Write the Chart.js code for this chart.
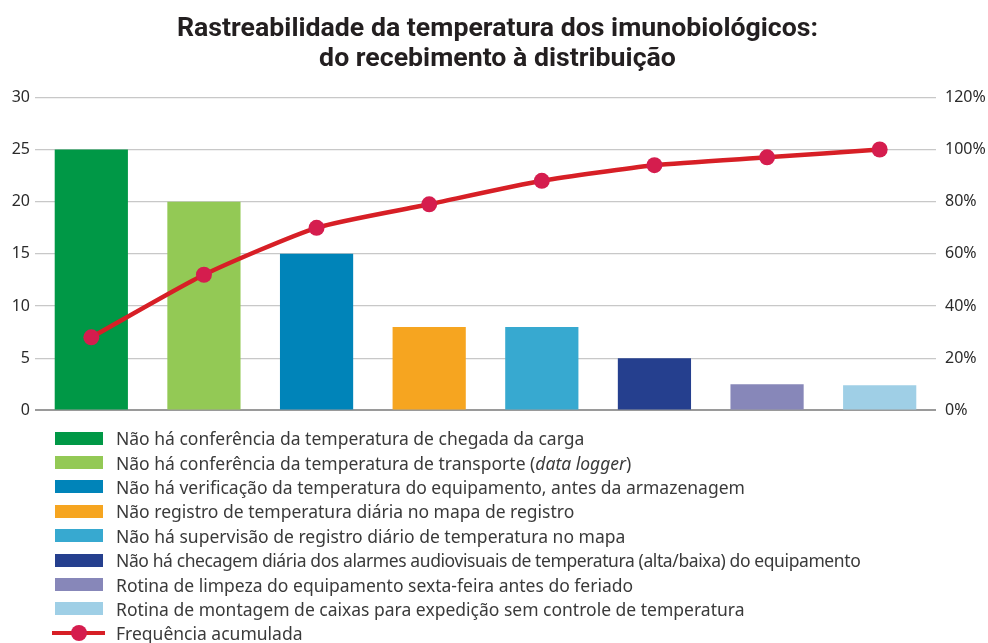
<!DOCTYPE html>
<html>
<head>
<meta charset="utf-8">
<script src="https://cdn.jsdelivr.net/npm/chart.js@4.4.1/dist/chart.umd.min.js"></script>
<style>
    body { margin: 0; background: #fff; }
    #wrap { position: relative; width: 988px; height: 643px; overflow: hidden; }
    #chart { position: absolute; left: 0; top: 0; }
    #legend {
        position: absolute; left: 52px; top: 426px;
        font-family: "Noto Sans", sans-serif; font-size: 17.5px; color: #3a3a3a;
    }
    .row { height: 24.4px; display: flex; align-items: center; white-space: nowrap; }
    .row.tight { letter-spacing: -0.4px; }
    .box { width: 48px; height: 13px; margin: 0 13px 0 3px; flex: none; }
    .lineKey { position: relative; width: 53px; height: 16px; margin-right: 11px; flex: none; }
    .lineKey .ln { position: absolute; left: 0; top: 6px; width: 53px; height: 4px; background: #d71f26; }
    .lineKey .pt { position: absolute; left: 19px; top: 0; width: 16px; height: 16px; border-radius: 50%; background: #d51d4e; }
</style>
</head>
<body>
<div id="wrap">
    <canvas id="chart" width="988" height="429"></canvas>
    <div id="legend"></div>
</div>
<script>
"use strict";

const titleLines = ["Rastreabilidade da temperatura dos imunobiológicos:", "do recebimento à distribuição"];

const categories = [
    "Não há conferência da temperatura de chegada da carga",
    "Não há conferência da temperatura de transporte (data logger)",
    "Não há verificação da temperatura do equipamento, antes da armazenagem",
    "Não registro de temperatura diária no mapa de registro",
    "Não há supervisão de registro diário de temperatura no mapa",
    "Não há checagem diária dos alarmes audiovisuais de temperatura (alta/baixa) do equipamento",
    "Rotina de limpeza do equipamento sexta-feira antes do feriado",
    "Rotina de montagem de caixas para expedição sem controle de temperatura"
];
const counts = [25, 20, 15, 8, 8, 5, 2.5, 2.4];
const cumulativePct = [28, 52, 70, 79, 88, 94, 97, 100];
const barColors = ["#009846", "#93c955", "#0084b9", "#f6a520", "#37a9d0", "#253f8e", "#8787b9", "#9fcfe6"];
const lineLabel = "Frequência acumulada";

const leftTicks = [0, 5, 10, 15, 20, 25, 30];
const rightTicks = [0, 20, 40, 60, 80, 100, 120];

const tickFont = { family: "Noto Sans", size: 16 };

const ctx = document.getElementById("chart").getContext("2d");
new Chart(ctx, {
    data: {
        labels: categories,
        datasets: [{
            type: "line",
            label: lineLabel,
            data: cumulativePct,
            yAxisID: "yPct",
            borderColor: "#d71f26",
            borderWidth: 4.5,
            pointBackgroundColor: "#d51d4e",
            pointBorderColor: "#d51d4e",
            pointRadius: 8,
            pointBorderWidth: 0,
            tension: 0.2,
            order: 0
        }, {
            type: "bar",
            label: "Frequência",
            data: counts,
            yAxisID: "y",
            backgroundColor: barColors,
            barPercentage: 0.65,
            categoryPercentage: 1,
            order: 1
        }]
    },
    options: {
        responsive: false,
        animation: false,
        layout: { padding: { left: 10, right: 3, top: 0, bottom: 0 } },
        plugins: {
            legend: { display: false },
            tooltip: { enabled: false },
            title: {
                display: true,
                text: titleLines,
                color: "#231f20",
                font: { family: "Roboto", size: 26.7, weight: "bold", lineHeight: 1.13 },
                padding: { top: 14, bottom: 23 }
            }
        },
        scales: {
            x: { display: false },
            y: {
                position: "left",
                min: 0, max: 30,
                afterBuildTicks: axis => { axis.ticks = leftTicks.map(v => ({ value: v })); },
                afterFit: axis => { axis.width = 25; },
                border: { display: false },
                grid: {
                    drawTicks: false,
                    color: c => c.tick.value === 0 ? "#9a9a9a" : "#c8c8c8",
                    lineWidth: c => c.tick.value === 0 ? 2 : 1.3
                },
                ticks: { color: "#2b2b2b", font: tickFont, padding: 5 }
            },
            yPct: {
                position: "right",
                min: 0, max: 120,
                afterBuildTicks: axis => { axis.ticks = rightTicks.map(v => ({ value: v })); },
                afterFit: axis => { axis.width = 49; },
                border: { display: false },
                grid: { display: false, drawTicks: false },
                ticks: { color: "#2b2b2b", font: tickFont, padding: 9, callback: v => v + "%" }
            }
        }
    }
});

// legend, one item per row
const legend = document.getElementById("legend");
categories.forEach((name, i) => {
    const row = document.createElement("div");
    row.className = name.includes("alta/baixa") ? "row tight" : "row";
    const box = document.createElement("span");
    box.className = "box";
    box.style.background = barColors[i];
    const txt = document.createElement("span");
    txt.innerHTML = name.replace("(data logger)", "(<i>data logger</i>)");
    row.appendChild(box);
    row.appendChild(txt);
    legend.appendChild(row);
});
const lineRow = document.createElement("div");
lineRow.className = "row";
lineRow.innerHTML = '<span class="lineKey"><span class="ln"></span><span class="pt"></span></span><span>' + lineLabel + '</span>';
legend.appendChild(lineRow);
</script>
</body>
</html>
